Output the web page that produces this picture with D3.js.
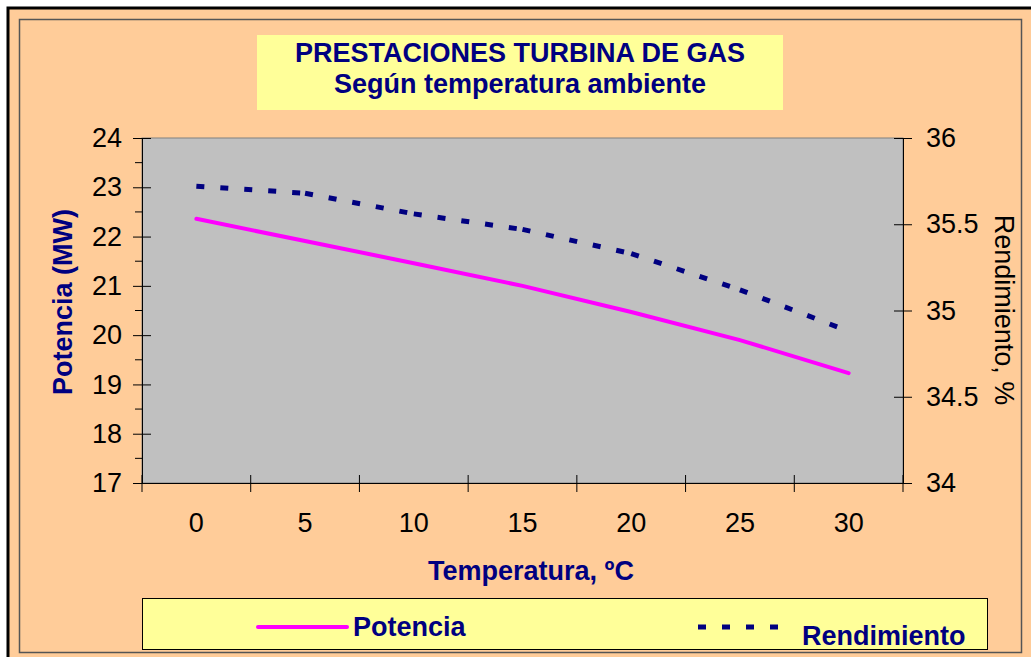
<!DOCTYPE html>
<html>
<head>
<meta charset="utf-8">
<script src="https://cdn.jsdelivr.net/npm/d3@7"></script>
<style>
  body { margin: 0; background: #fff; }
  svg { display: block; font-family: "Liberation Sans", Arial, sans-serif; }
</style>
</head>
<body>
<div id="chart"></div>
<script>
// data
const temps = ["0", "5", "10", "15", "20", "25", "30"];
const potencia = [22.36, 21.91, 21.46, 21.0, 20.47, 19.9, 19.23];
const rendimiento = [35.72, 35.68, 35.56, 35.47, 35.33, 35.12, 34.88];
const leftTicks = [17, 18, 19, 20, 21, 22, 23, 24];
const leftMinor = [17.5, 18.5, 19.5, 20.5, 21.5, 22.5, 23.5];
const rightTicks = [34, 34.5, 35, 35.5, 36];

const width = 1031, height = 657;
const navy = "#000080", pink = "#FF00FF";

const svg = d3.select("#chart").append("svg")
    .attr("width", width)
    .attr("height", height);

// chart area
svg.append("rect")
    .attr("x", 8).attr("y", 8)
    .attr("width", 1100).attr("height", 700)
    .attr("fill", "#FFCC99")
    .attr("stroke", "#000")
    .attr("stroke-width", 3);

svg.append("rect")
    .attr("x", 19.5).attr("y", 19.5)
    .attr("width", 1002).attr("height", 633)
    .attr("fill", "none")
    .attr("stroke", "#555")
    .attr("stroke-width", 1.5);

// title box
svg.append("rect")
    .attr("x", 257).attr("y", 35)
    .attr("width", 526).attr("height", 75)
    .attr("fill", "#FFFF99");

svg.append("text")
    .attr("x", 520).attr("y", 62)
    .attr("text-anchor", "middle")
    .attr("font-size", 27).attr("font-weight", "bold")
    .attr("fill", navy)
    .text("PRESTACIONES TURBINA DE GAS");

svg.append("text")
    .attr("x", 520).attr("y", 93)
    .attr("text-anchor", "middle")
    .attr("font-size", 27).attr("font-weight", "bold")
    .attr("fill", navy)
    .text("Según temperatura ambiente");

// scales
const x = d3.scaleBand().domain(temps).range([142, 903]);
const yL = d3.scaleLinear().domain([17, 24]).range([483, 138]);
const yR = d3.scaleLinear().domain([34, 36]).range([483, 138]);

// plot area
svg.append("rect")
    .attr("x", 142).attr("y", 138)
    .attr("width", 903 - 142).attr("height", 483 - 138)
    .attr("fill", "#C0C0C0")
    .attr("stroke", "#808080")
    .attr("stroke-width", 1);

// left axis
const gL = svg.append("g")
    .attr("transform", "translate(142,0)")
    .call(d3.axisLeft(yL).tickValues(leftTicks).tickFormat(d3.format("d"))
      .tickSize(9).tickSizeOuter(0).tickPadding(11));
gL.selectAll(".tick line").attr("x2", -9).attr("x1", 9);

gL.selectAll(".minor")
    .data(leftMinor)
    .enter().append("line")
    .attr("x1", -7).attr("x2", 0)
    .attr("y1", d => yL(d)).attr("y2", d => yL(d))
    .attr("stroke", "#000");

// right axis
const gR = svg.append("g")
    .attr("transform", "translate(903,0)")
    .call(d3.axisRight(yR).tickValues(rightTicks).tickFormat(d3.format("~g"))
      .tickSize(9).tickSizeOuter(0).tickPadding(14));
gR.selectAll(".tick line").attr("x1", -9).attr("x2", 9);

// bottom axis
const gX = svg.append("g")
    .attr("transform", "translate(0,483)")
    .call(d3.axisBottom(x).tickSize(0).tickSizeOuter(0).tickPadding(30));

gX.selectAll(".bound")
    .data(temps.map(d => x(d)).concat([x.range()[1]]))
    .enter().append("line")
    .attr("x1", d => d).attr("x2", d => d)
    .attr("y1", -8).attr("y2", 9)
    .attr("stroke", "#000");

[gL, gR, gX].forEach(g => {
  g.selectAll("text").attr("font-size", 27).attr("fill", "#000")
    .attr("font-family", "\"Liberation Sans\", Arial, sans-serif");
  g.select(".domain").attr("stroke", "#000");
});

// axis titles
svg.append("text")
    .attr("transform", "translate(72,302) rotate(-90)")
    .attr("text-anchor", "middle")
    .attr("font-size", 27).attr("font-weight", "bold")
    .attr("fill", navy)
    .text("Potencia (MW)");

svg.append("text")
    .attr("transform", "translate(995,310) rotate(90)")
    .attr("text-anchor", "middle")
    .attr("font-size", 27)
    .attr("fill", "#000")
    .text("Rendimiento, %");

svg.append("text")
    .attr("x", 531).attr("y", 580)
    .attr("text-anchor", "middle")
    .attr("font-size", 27).attr("font-weight", "bold")
    .attr("fill", navy)
    .text("Temperatura, ºC");

// series
const cx = d => x(d) + x.bandwidth() / 2;

const line = d3.line()
    .x((d, i) => cx(temps[i]))
    .y(d => yL(d));

svg.append("path")
    .datum(potencia)
    .attr("d", line)
    .attr("fill", "none")
    .attr("stroke", pink)
    .attr("stroke-width", 4)
    .attr("stroke-linecap", "round");

const rPts = rendimiento.map((v, i) => [cx(temps[i]), yR(v)]);
svg.append("g").selectAll("line")
    .data(d3.pairs(rPts))
    .enter().append("line")
    .attr("x1", d => d[0][0]).attr("y1", d => d[0][1])
    .attr("x2", d => d[1][0]).attr("y2", d => d[1][1])
    .attr("stroke", navy)
    .attr("stroke-width", 5)
    .attr("stroke-dasharray", "8,16");

// legend
svg.append("rect")
    .attr("x", 142.5).attr("y", 598.5)
    .attr("width", 845).attr("height", 51)
    .attr("fill", "#FFFF99")
    .attr("stroke", "#000");

svg.append("line")
    .attr("x1", 258).attr("x2", 347)
    .attr("y1", 627).attr("y2", 627)
    .attr("stroke", pink).attr("stroke-width", 4)
    .attr("stroke-linecap", "round");

svg.append("text")
    .attr("x", 353).attr("y", 636)
    .attr("font-size", 27).attr("font-weight", "bold")
    .attr("fill", navy)
    .text("Potencia");

svg.append("line")
    .attr("x1", 698).attr("x2", 790)
    .attr("y1", 627).attr("y2", 627)
    .attr("stroke", navy).attr("stroke-width", 5)
    .attr("stroke-dasharray", "8,16");

svg.append("text")
    .attr("x", 802).attr("y", 645)
    .attr("font-size", 27).attr("font-weight", "bold")
    .attr("fill", navy)
    .text("Rendimiento");
</script>
</body>
</html>
